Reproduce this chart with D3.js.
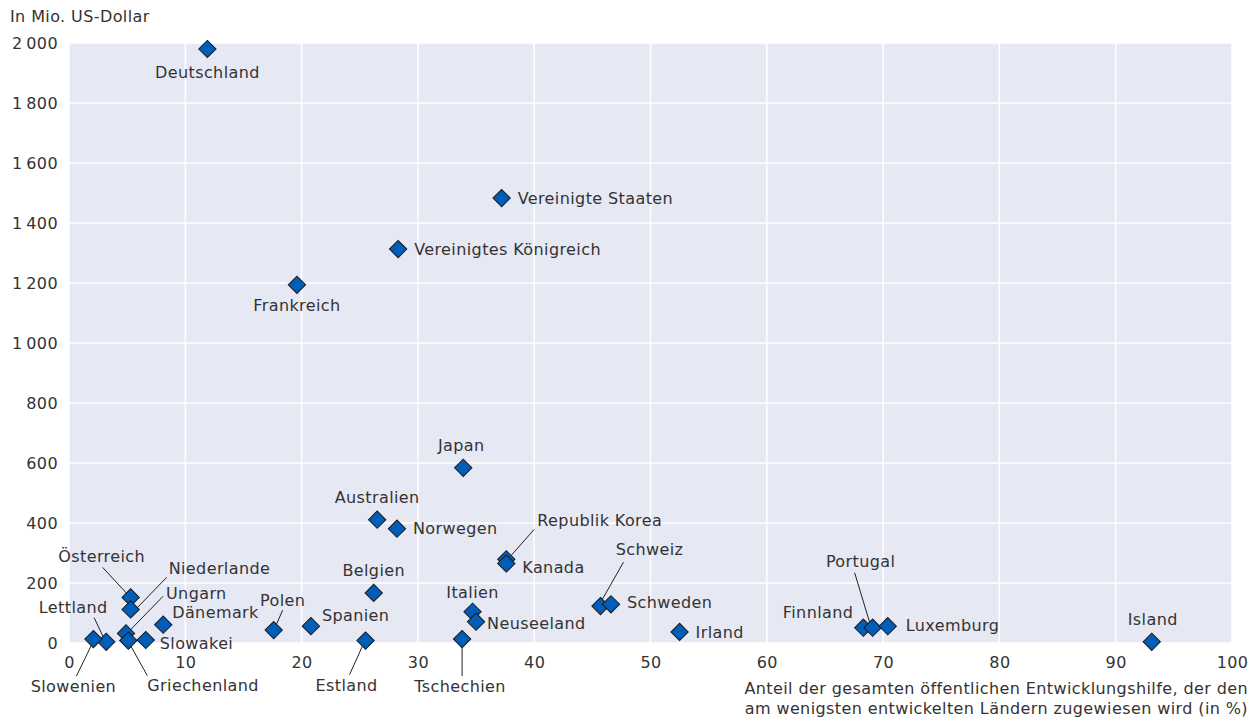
<!DOCTYPE html>
<html>
<head>
<meta charset="utf-8">
<script src="https://cdn.jsdelivr.net/npm/d3@7"></script>
<style>
  body { margin: 0; background: #fff; }
  text { font-family: "DejaVu Sans", sans-serif; fill: #333; letter-spacing: 0.4px; }
</style>
</head>
<body>
<div id="chart"></div>
<script>
// data: country, share to LDCs (%), amount (Mio. USD)
const countries = ["Deutschland", "Vereinigte Staaten", "Vereinigtes Königreich", "Frankreich", "Japan",
  "Australien", "Norwegen", "Republik Korea", "Kanada", "Italien", "Neuseeland", "Tschechien",
  "Schweiz", "Schweden", "Irland", "Belgien", "Spanien", "Polen", "Estland", "Dänemark",
  "Slowakei", "Österreich", "Niederlande", "Ungarn", "Griechenland", "Lettland", "Slowenien",
  "Finnland", "Portugal", "Luxemburg", "Island"];
const shareLDC = [11.9, 37.2, 28.3, 19.6, 33.9,
  26.5, 28.2, 37.6, 37.6, 34.7, 35.0, 33.8,
  45.7, 46.6, 52.5, 26.2, 20.8, 17.6, 25.5, 8.1,
  6.6, 5.3, 5.3, 4.9, 5.1, 3.2, 2.1,
  68.3, 69.1, 70.4, 93.1];
const amount = [1980, 1483, 1313, 1194, 584,
  411, 381, 279, 265, 104, 71, 13,
  123, 129, 37, 167, 56, 43, 8, 61,
  10, 152, 112, 32, 8, 4, 13,
  51, 51, 56, 4];
const xTicks = [0, 10, 20, 30, 40, 50, 60, 70, 80, 90, 100];
const yTicks = [0, 200, 400, 600, 800, 1000, 1200, 1400, 1600, 1800, 2000];
const yTitle = "In Mio. US-Dollar";
const xTitle = ["Anteil der gesamten öffentlichen Entwicklungshilfe, der den",
  "am wenigsten entwickelten Ländern zugewiesen wird (in %)"];

// label placement relative to the marker: [dx, dy, anchor, leader]
const labelPos = {
  "Deutschland": [0, 23, "middle"],
  "Vereinigte Staaten": [16, 0, "start"],
  "Vereinigtes Königreich": [16, 0, "start"],
  "Frankreich": [0, 21, "middle"],
  "Japan": [-2, -22, "middle"],
  "Australien": [0, -22, "middle"],
  "Norwegen": [16, 0, "start"],
  "Republik Korea": [31, -39, "start", [28, -30, 5, -4]],
  "Kanada": [16, 4, "start"],
  "Italien": [0, -19, "middle"],
  "Neuseeland": [11, 2, "start"],
  "Tschechien": [-2, 47, "middle", [0, 7, 0, 37]],
  "Schweiz": [49, -57, "middle", [23, -44, 2, -7]],
  "Schweden": [16, -2, "start"],
  "Irland": [16, 0, "start"],
  "Belgien": [0, -23, "middle"],
  "Spanien": [11, -11, "start"],
  "Polen": [9, -30, "middle", [9, -20, 2, -4]],
  "Estland": [-19, 45, "middle", [-16, 34, -2, 3]],
  "Dänemark": [9, -12, "start"],
  "Slowakei": [14, 3, "start"],
  "Österreich": [-29, -41, "middle", [-28, -30, -3, -3]],
  "Niederlande": [38, -41, "start", [36, -32, 6, -1]],
  "Ungarn": [40, -40, "start", [37, -37, 2, -1]],
  "Griechenland": [19, 45, "start", [19, 35, 0, 1]],
  "Lettland": [-33, -34, "middle", [-12, -24, -3, -5]],
  "Slowenien": [-20, 47, "middle", [-17, 37, -1, 4]],
  "Finnland": [-10, -15, "end"],
  "Portugal": [-12, -66, "middle", [-18, -55, -2, -2]],
  "Luxemburg": [18, -1, "start"],
  "Island": [1, -22, "middle"]
};

const width = 1256, height = 719;
const margin = {top: 43, right: 24, bottom: 76, left: 69};
const fontSize = 16;

const svg = d3.select("#chart").append("svg")
  .attr("width", width)
  .attr("height", height);

const x = d3.scaleLinear().domain([0, 100]).range([margin.left, width - margin.right]);
const y = d3.scaleLinear().domain([0, 2000]).range([height - margin.bottom, margin.top]);

const loc = d3.formatLocale({decimal: ",", thousands: "\u2009", grouping: [3], currency: ["", ""]});
const fmt = loc.format(",d");

// plot background
svg.append("rect")
  .attr("x", x(0)).attr("y", y(2000))
  .attr("width", x(100) - x(0)).attr("height", y(0) - y(2000))
  .attr("fill", "#e6e8f4");

// grid
svg.append("g").selectAll("line")
  .data(xTicks).enter().append("line")
  .attr("x1", d => x(d)).attr("x2", d => x(d))
  .attr("y1", y(0)).attr("y2", y(2000))
  .attr("stroke", "#fff").attr("stroke-width", 1.5);
svg.append("g").selectAll("line")
  .data(yTicks).enter().append("line")
  .attr("x1", x(0)).attr("x2", x(100))
  .attr("y1", d => y(d)).attr("y2", d => y(d))
  .attr("stroke", "#fff").attr("stroke-width", 1.5);

// axes
const xAxis = svg.append("g")
  .attr("transform", `translate(0,${y(0)})`)
  .call(d3.axisBottom(x).tickValues(xTicks).tickSize(0).tickPadding(14));
const yAxis = svg.append("g")
  .attr("transform", `translate(${x(0)},0)`)
  .call(d3.axisLeft(y).tickValues(yTicks).tickFormat(fmt).tickSize(0).tickPadding(11));
[xAxis, yAxis].forEach(a => {
  a.select(".domain").remove();
  a.selectAll("text").attr("font-size", fontSize).attr("fill", "#333")
    .attr("font-family", "'DejaVu Sans', sans-serif");
});

svg.append("text")
  .attr("x", 10).attr("y", 22)
  .attr("font-size", fontSize)
  .text(yTitle);

svg.append("g").selectAll("text")
  .data(xTitle).enter().append("text")
  .attr("x", width - 8)
  .attr("y", (d, i) => 694 + i * 20)
  .attr("text-anchor", "end")
  .attr("font-size", fontSize)
  .text(d => d);

const data = countries.map((c, i) => ({name: c, xv: shareLDC[i], yv: amount[i]}));

// leader lines
svg.append("g").selectAll("line")
  .data(data.filter(d => labelPos[d.name][3])).enter().append("line")
  .attr("x1", d => x(d.xv) + labelPos[d.name][3][0])
  .attr("y1", d => y(d.yv) + labelPos[d.name][3][1])
  .attr("x2", d => x(d.xv) + labelPos[d.name][3][2])
  .attr("y2", d => y(d.yv) + labelPos[d.name][3][3])
  .attr("stroke", "#222").attr("stroke-width", 1);

// markers
const diamond = d3.symbol().type(d3.symbolSquare).size(150);
svg.append("g").selectAll("path")
  .data(data).enter().append("path")
  .attr("d", diamond)
  .attr("transform", d => `translate(${x(d.xv)},${y(d.yv)}) rotate(45)`)
  .attr("fill", "#005eb8")
  .attr("stroke", "#1a1a1a")
  .attr("stroke-width", 1);

// labels
svg.append("g").selectAll("text")
  .data(data).enter().append("text")
  .attr("x", d => x(d.xv) + labelPos[d.name][0])
  .attr("y", d => y(d.yv) + labelPos[d.name][1])
  .attr("dy", "0.35em")
  .attr("text-anchor", d => labelPos[d.name][2])
  .attr("font-size", fontSize)
  .text(d => d.name);
</script>
</body>
</html>
